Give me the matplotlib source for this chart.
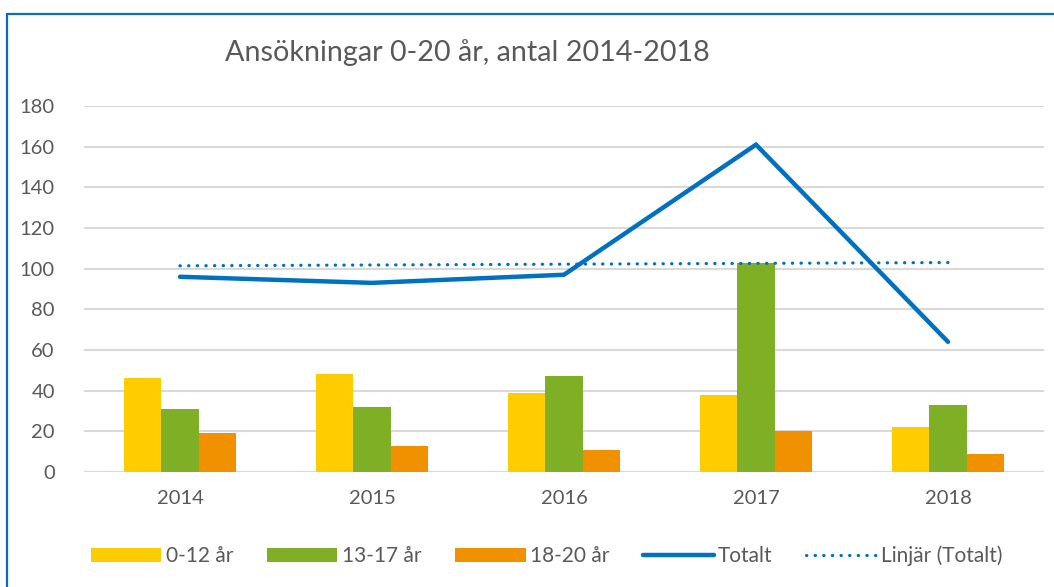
import numpy as np
import matplotlib
matplotlib.use("Agg")
import matplotlib.pyplot as plt
from matplotlib.patches import Rectangle

plt.rcParams['font.family'] = ['Lato', 'DejaVu Sans']

# data
years = ['2014', '2015', '2016', '2017', '2018']
age_0_12 = [46, 48, 39, 38, 22]
age_13_17 = [31, 32, 47, 103, 33]
age_18_20 = [19, 13, 11, 20, 9]
totalt = [96, 93, 97, 161, 64]

GRAY = '#595959'
BLUE = '#0070C0'

fig = plt.figure(figsize=(10.54, 5.87), dpi=100)
ax = fig.add_axes([0.0797, 0.196, 0.9108, 0.6234])

x = np.arange(len(years))
w = 0.195
b1 = ax.bar(x - w, age_0_12, w, color='#FFCC00', label='0-12 år', zorder=2)
b2 = ax.bar(x, age_13_17, w, color='#7FAF25', label='13-17 år', zorder=2)
b3 = ax.bar(x + w, age_18_20, w, color='#F29100', label='18-20 år', zorder=2)
l1, = ax.plot(x, totalt, color=BLUE, lw=3.2, solid_capstyle='round',
              solid_joinstyle='miter', label='Totalt', zorder=3)

# linear trend like Excel's "Linjär"
k, m = np.polyfit(x, totalt, 1)
l2, = ax.plot(x, k * x + m, color=BLUE, lw=2.3, ls=(0, (0.1, 2.6)),
              dash_capstyle='round', label='Linjär (Totalt)', zorder=3)

ax.set_xlim(-0.5, len(years) - 0.5)
ax.set_ylim(0, 180)
ax.set_yticks(range(0, 181, 20))
ax.set_xticks(x)
ax.set_xticklabels(years)
ax.yaxis.grid(True, color='#D9D9D9', lw=1.5, zorder=0)
ax.set_axisbelow(True)
for s in ax.spines.values():
    s.set_visible(False)
ax.tick_params(length=0, labelsize=14.5, labelcolor=GRAY)
ax.tick_params(axis='y', pad=21)
ax.tick_params(axis='x', pad=13)

fig.text(0.443, 0.911, 'Ansökningar 0-20 år, antal 2014-2018',
         ha='center', va='center', fontsize=20.7, color=GRAY)

leg = ax.legend([b1, b2, b3, l1, l2],
                ['0-12 år', '13-17 år', '18-20 år', 'Totalt', 'Linjär (Totalt)'],
                loc='center', bbox_to_anchor=(0.482, -0.2295), ncol=5,
                frameon=False, fontsize=15, handlelength=3.4,
                handleheight=0.65, columnspacing=1.62, handletextpad=0.2)
for t in leg.get_texts():
    t.set_color(GRAY)

# blue chart frame
fig.patches.append(Rectangle((7 / 1054, -0.05), 1.2, 1 - 14 / 587 + 0.05,
                             transform=fig.transFigure, fill=False,
                             edgecolor=BLUE, lw=1.6))

fig.savefig('out.png', dpi=100, facecolor='white')
